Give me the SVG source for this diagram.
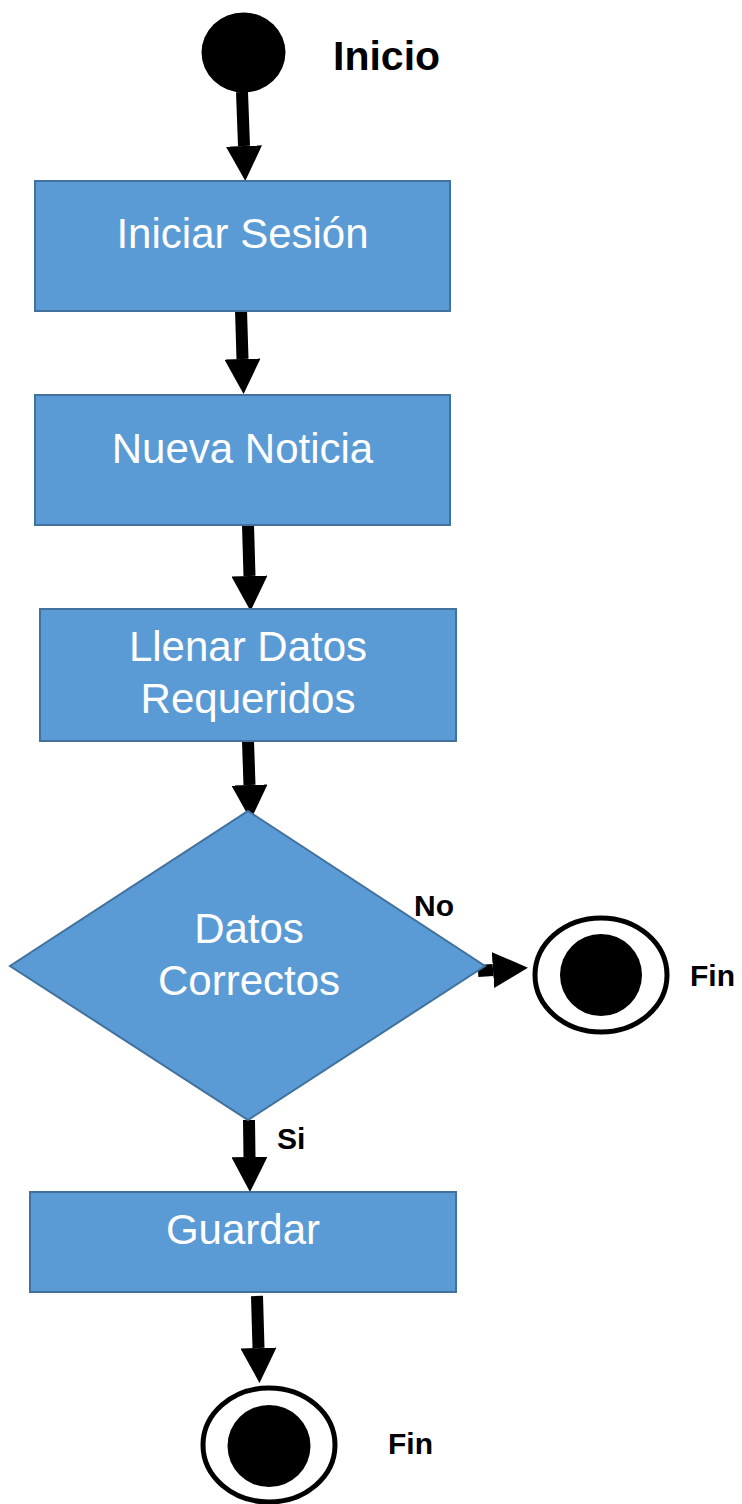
<svg xmlns="http://www.w3.org/2000/svg" width="742" height="1504" viewBox="0 0 742 1504">
<defs>
<style>
.box{fill:#5B9BD5;stroke:#41719C;stroke-width:2}
.bt{fill:#FFFFFF;font-family:"Liberation Sans",Arial,sans-serif;font-size:42px;text-anchor:middle}
.lbl{fill:#000;font-family:"Liberation Sans",Arial,sans-serif;font-weight:bold;font-size:30px}
.edge{stroke:#000;stroke-width:12;fill:none;marker-end:url(#ah)}
</style>
<marker id="ah" viewBox="0 0 35 36" refX="0" refY="18" markerWidth="35" markerHeight="36" markerUnits="userSpaceOnUse" orient="auto">
<path d="M0,0 L35,18 L0,36 Z" fill="#000"/>
</marker>
</defs>
<g id="connectors">
<line class="edge" x1="242" y1="92" x2="244" y2="146"/>
<line class="edge" x1="241" y1="310" x2="242.5" y2="359"/>
<line class="edge" x1="248" y1="525" x2="249.5" y2="576"/>
<line class="edge" x1="248" y1="741" x2="249.5" y2="785"/>
<line class="edge" x1="478" y1="971" x2="493" y2="970"/>
<line class="edge" x1="249" y1="1120" x2="249.5" y2="1157"/>
<line class="edge" x1="257" y1="1296" x2="258.5" y2="1348"/>
</g>
<g id="inicio">
<ellipse cx="243.5" cy="52.5" rx="42" ry="40" fill="#000"/>
<text class="lbl" x="333" y="70" style="font-size:41px">Inicio</text>
</g>
<g id="iniciar-sesion">
<rect class="box" x="35" y="181" width="415" height="130"/>
<text class="bt" x="242.5" y="248">Iniciar Sesión</text>
</g>
<g id="nueva-noticia">
<rect class="box" x="35" y="395" width="415" height="130"/>
<text class="bt" x="242.5" y="463">Nueva Noticia</text>
</g>
<g id="llenar-datos">
<rect class="box" x="40" y="609" width="416" height="132"/>
<text class="bt" x="248" y="661">Llenar Datos</text>
<text class="bt" x="248" y="713">Requeridos</text>
</g>
<g id="datos-correctos">
<polygon class="box" points="248,811 485,966 248,1120 10,966"/>
<text class="bt" x="249" y="943">Datos</text>
<text class="bt" x="249" y="995">Correctos</text>
</g>
<g id="label-no"><text class="lbl" x="414" y="916">No</text></g>
<g id="label-si"><text class="lbl" x="277" y="1149">Si</text></g>
<g id="fin-no">
<ellipse cx="601" cy="975" rx="66" ry="57" fill="#FFF" stroke="#000" stroke-width="5"/>
<ellipse cx="601" cy="975" rx="41" ry="41" fill="#000"/>
<text class="lbl" x="690" y="986">Fin</text>
</g>
<g id="guardar">
<rect class="box" x="30" y="1192" width="426" height="100"/>
<text class="bt" x="243" y="1244">Guardar</text>
</g>
<g id="fin">
<ellipse cx="269" cy="1445" rx="66" ry="57" fill="#FFF" stroke="#000" stroke-width="5"/>
<ellipse cx="269" cy="1446" rx="41.5" ry="41" fill="#000"/>
<text class="lbl" x="388" y="1454">Fin</text>
</g>
</svg>
